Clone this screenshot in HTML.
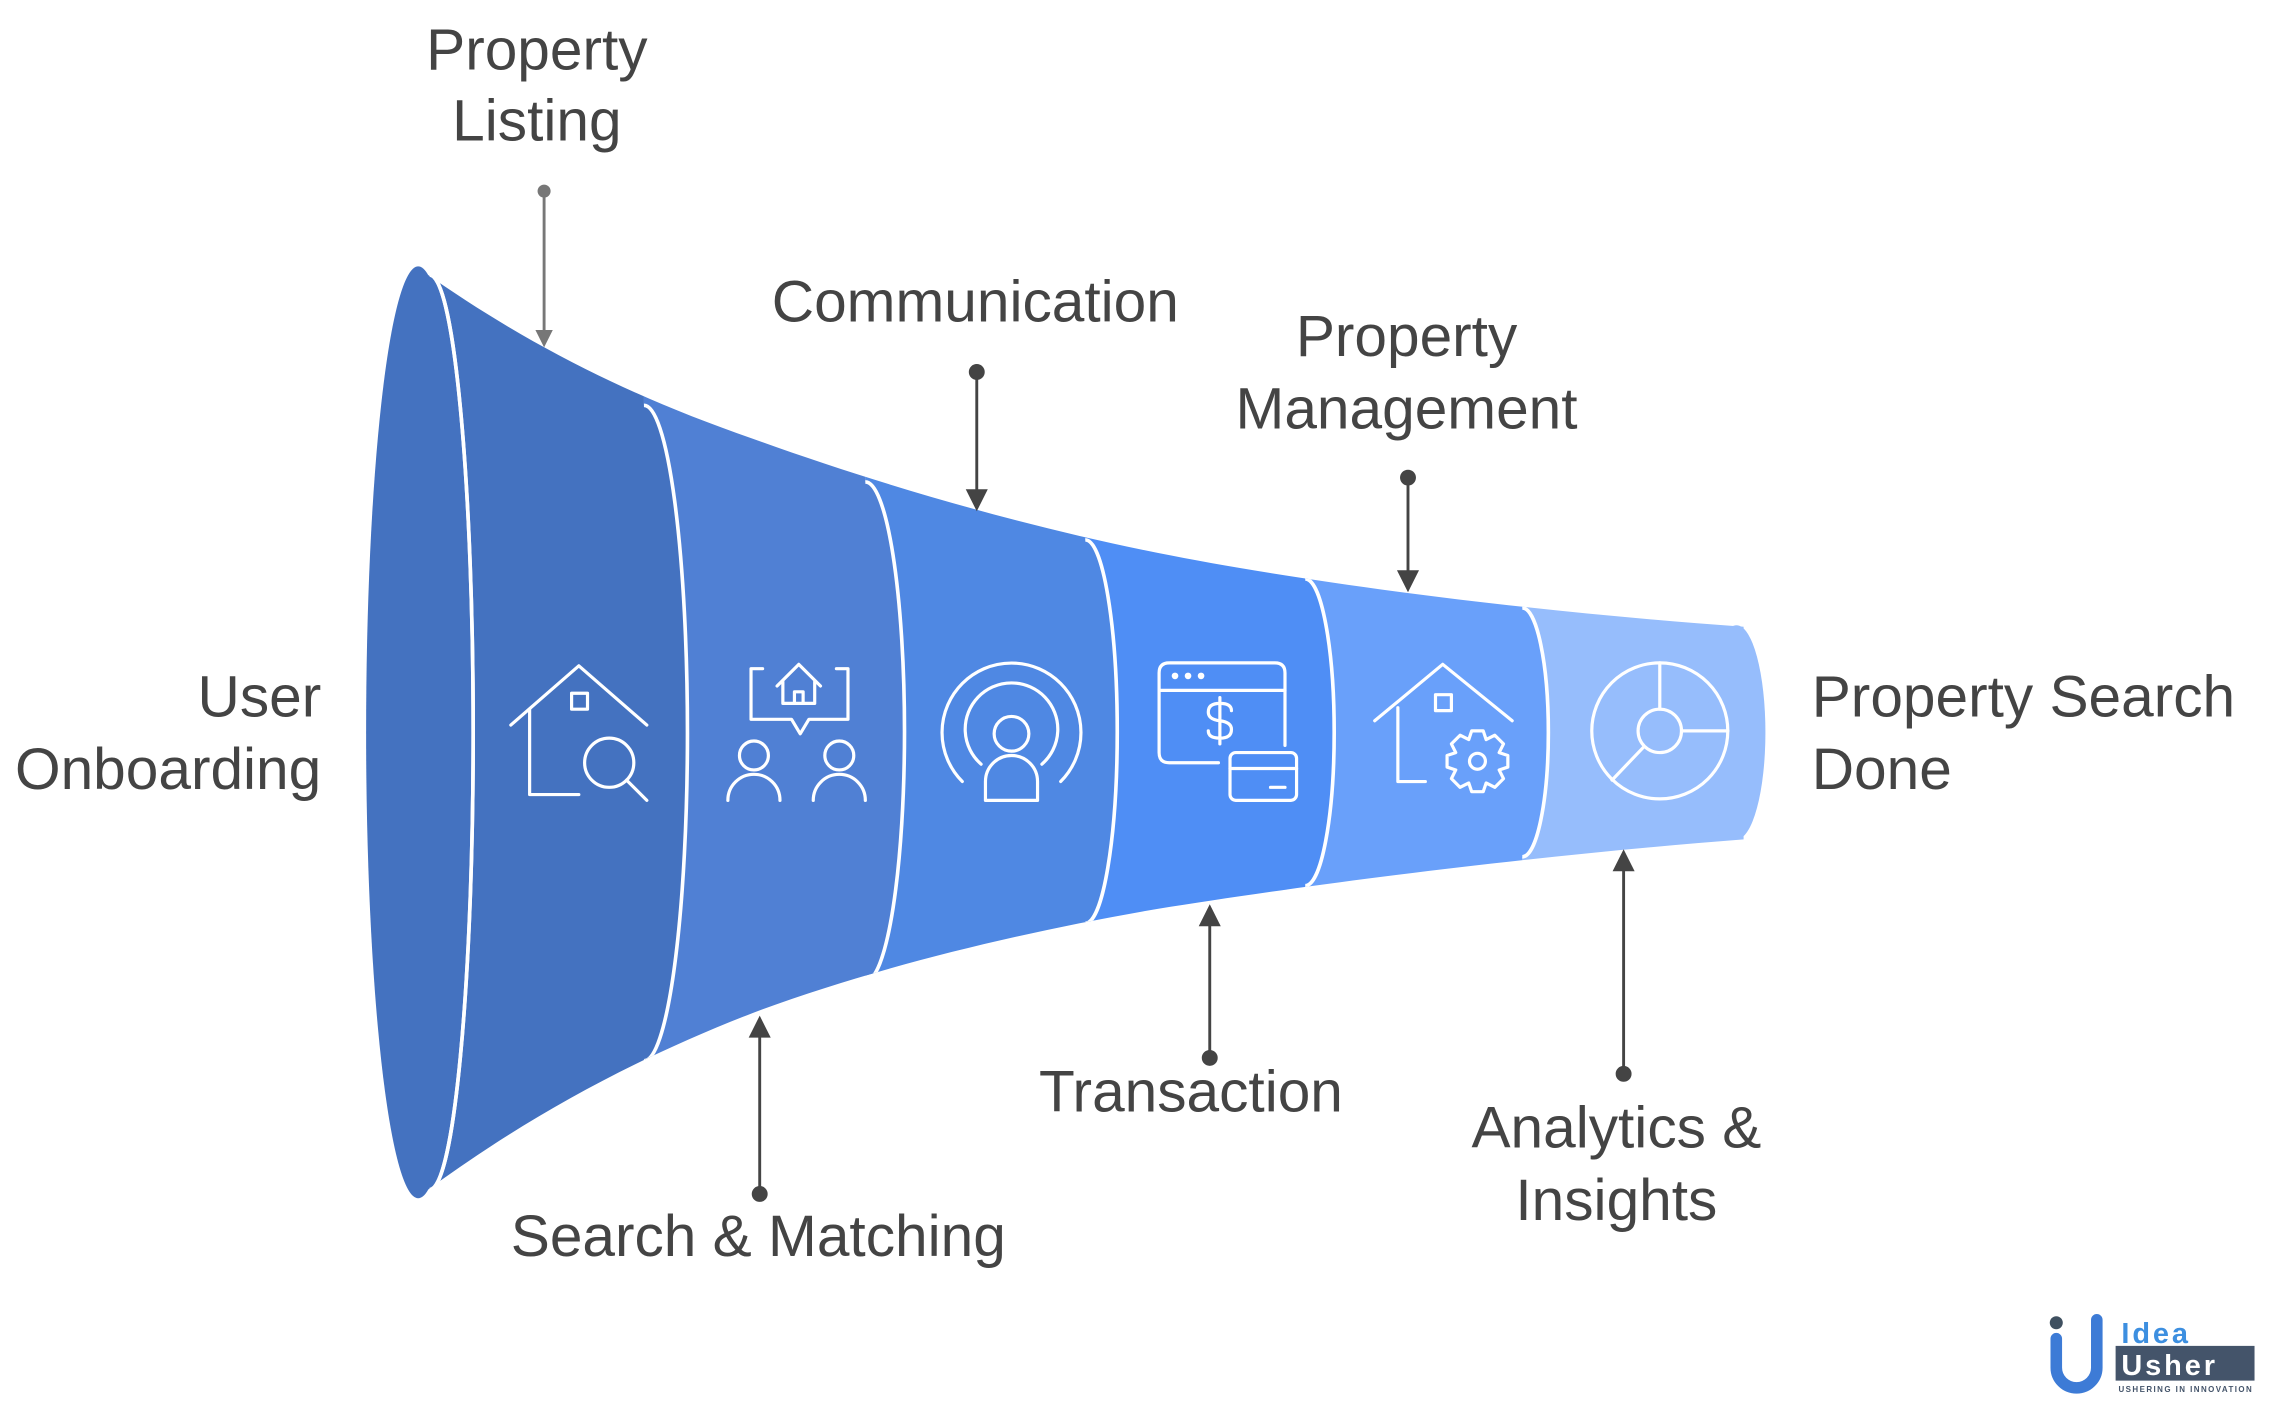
<!DOCTYPE html>
<html><head><meta charset="utf-8"><style>
html,body{margin:0;padding:0;background:#fff;}
svg{display:block;}
text{font-family:"Liberation Sans",Arial,sans-serif;fill:#444;font-size:40.5px;}
</style></head><body>
<svg width="2269" height="1401" viewBox="0 0 1568 968" xmlns="http://www.w3.org/2000/svg">
<defs>
<clipPath id="f"><path d="M293,188 C360,235 430,272 520,303 C600,332 700,362 800,382 C900,402 1050,422 1205,433 L1205,580 C1050,592 900,612 800,628 C700,645 600,670 520,700 C430,735 360,775 293,824 Z"/></clipPath>
</defs>
<g clip-path="url(#f)">
<rect x="1052" y="0" width="200" height="968" fill="#96BDFC"/>
<path d="M902,0 L1052,0 L1052,420 A18,86 0 0 1 1052,592 L1052,968 L902,968Z" fill="#69A0FA"/>
<path d="M750,0 L902,0 L902,400 A20,106 0 0 1 902,612 L902,968 L750,968Z" fill="#4F8EF5"/>
<path d="M598,0 L750,0 L750,373 A22,132 0 0 1 750,638 L750,968 L598,968Z" fill="#4F88E3"/>
<path d="M445,0 L598,0 L598,333 A27,172 0 0 1 598,678 L598,968 L445,968Z" fill="#5080D4"/>
<path d="M280,0 L445,0 L445,280 A30,226 0 0 1 445,733 L445,968 L280,968Z" fill="#4472C0"/>
<g fill="none" stroke="#fff" stroke-width="2.5">
<path d="M445,280 A30,226 0 0 1 445,733"/>
<path d="M598,333 A27,172 0 0 1 598,678"/>
<path d="M750,373 A22,132 0 0 1 750,638"/>
<path d="M902,400 A20,106 0 0 1 902,612"/>
<path d="M1052,420 A18,86 0 0 1 1052,592"/>
<path d="M297,190 A30,316 0 0 1 297,822"/>
</g>
</g>
<ellipse cx="1200" cy="506" rx="20" ry="74" fill="#96BDFC"/>
<ellipse cx="289" cy="506" rx="36" ry="322" fill="#4472C0"/>
<path d="M297,190 A30,316 0 0 1 297,822" fill="none" stroke="#fff" stroke-width="2.5"/>

<g fill="none" stroke="#fff" stroke-width="2.2" stroke-linecap="round" stroke-linejoin="round">
<path d="M353,501 L400,460 L447,501"/><rect x="395" y="479" width="11" height="11"/>
<path d="M366,490 L366,549 L400,549"/><circle cx="421" cy="527" r="17"/><path d="M433,539 L447,553"/>
<path d="M527,462 L519,462 L519,497 L547,497 L553,507 L559,497 L586,497 L586,462 L578,462"/>
<path d="M537,474 L552,459 L567,474 M541,471 L541,486 L563,486 L563,471"/><path d="M549,486 L549,478 L555,478 L555,486"/>
<circle cx="521" cy="522" r="10"/><path d="M503,553 A18,18 0 0 1 539,553"/>
<circle cx="580" cy="522" r="10"/><path d="M562,553 A18,18 0 0 1 598,553"/>
<path d="M665,540 A48,48 0 1 1 733,540"/><path d="M678,528 A32,32 0 1 1 720,528"/>
<circle cx="699" cy="507" r="12"/><path d="M681,553 L681,540 A18,18 0 0 1 717,540 L717,553 Z"/>
<path d="M842,527 L808,527 Q801,527 801,520 L801,465 Q801,458 808,458 L881,458 Q888,458 888,465 L888,515"/><path d="M801,477 L888,477"/>
<circle cx="812" cy="467" r="1.2"/><circle cx="821" cy="467" r="1.2"/><circle cx="830" cy="467" r="1.2"/>
<path d="M851,491 Q851,486 843,486 Q835,486 835,492 Q835,497 843,498 Q851,499 851,504 Q851,510 843,510 Q835,510 835,505 M843,482 L843,514"/>
<rect x="850" y="520" width="46" height="33" rx="4"/><path d="M850,531 L896,531 M878,544 L888,544"/>
<path d="M950,498 L997,459 L1045,498"/><rect x="992" y="480" width="11" height="11"/><path d="M966,489 L966,540 L985,540"/>
<path d="M1017,505 L1025,505 L1027,511 L1033,508 L1039,514 L1036,520 L1042,522 L1042,530 L1036,532 L1039,538 L1033,544 L1027,541 L1025,547 L1017,547 L1015,541 L1009,544 L1003,538 L1006,532 L1000,530 L1000,522 L1006,520 L1003,514 L1009,508 L1015,511 Z"/><circle cx="1021" cy="526" r="5.5"/>
<circle cx="1147" cy="505" r="47"/><circle cx="1147" cy="505" r="15"/>
<path d="M1147,490 L1147,458 M1162,505 L1194,505 M1136,516 L1114,539"/>
</g>

<g stroke-width="2">
<line x1="376" y1="132" x2="376" y2="232" stroke="#777"/><circle cx="376" cy="132" r="4.5" fill="#777"/><path d="M370,228 L382,228 L376,240Z" fill="#777"/>
<g stroke="#444" fill="#444">
<line x1="675" y1="257" x2="675" y2="342"/><circle cx="675" cy="257" r="4.5"/><path d="M669,339 L681,339 L675,351Z"/>
<line x1="973" y1="330" x2="973" y2="398"/><circle cx="973" cy="330" r="4.5"/><path d="M967,395 L979,395 L973,407Z"/>
<line x1="525" y1="825" x2="525" y2="712"/><circle cx="525" cy="825" r="4.5"/><path d="M519,716 L531,716 L525,704Z"/>
<line x1="836" y1="731" x2="836" y2="636"/><circle cx="836" cy="731" r="4.5"/><path d="M830,639 L842,639 L836,627Z"/>
<line x1="1122" y1="742" x2="1122" y2="598"/><circle cx="1122" cy="742" r="4.5"/><path d="M1116,601 L1128,601 L1122,589Z"/>
</g></g>

<g text-anchor="middle">
<text x="371" y="48">Property</text><text x="371" y="97">Listing</text>
<text x="674" y="222">Communication</text>
<text x="972" y="246">Property</text><text x="972" y="296">Management</text>
<text x="524" y="868">Search &amp; Matching</text>
<text x="823" y="768">Transaction</text>
<text x="1117" y="793">Analytics &amp;</text><text x="1117" y="843">Insights</text>
</g>
<text x="222" y="495" text-anchor="end">User</text><text x="222" y="545" text-anchor="end">Onboarding</text>
<text x="1252" y="495">Property Search</text><text x="1252" y="545">Done</text>

<g>
<circle cx="1421" cy="914" r="4.5" fill="#3f5060"/>
<path d="M1421,925 L1421,945 A14,14 0 0 0 1449,945 L1449,912" fill="none" stroke="#3d7bd6" stroke-width="8" stroke-linecap="round"/>
<text x="1466" y="928" style="font-size:20px;fill:#3d8fe0;font-weight:bold;letter-spacing:2px">Idea</text>
<rect x="1462" y="930" width="96" height="24" fill="#44546a"/>
<text x="1466" y="950" style="font-size:20px;fill:#fff;font-weight:bold;letter-spacing:2px">Usher</text>
<text x="1464" y="962" style="font-size:5.5px;fill:#44546a;font-weight:bold;letter-spacing:1px">USHERING IN INNOVATION</text>
</g>
</svg>
</body></html>
